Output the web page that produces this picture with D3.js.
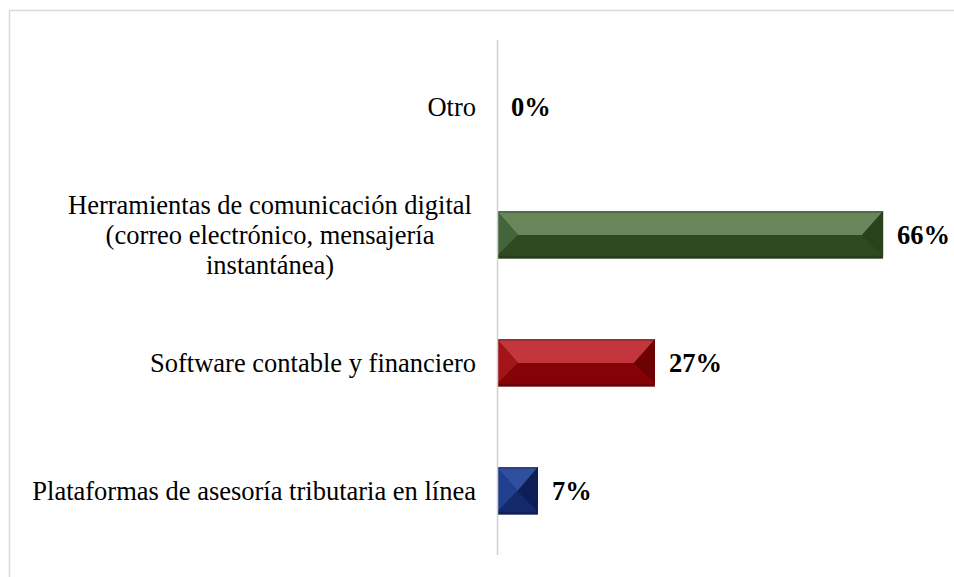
<!DOCTYPE html>
<html>
<head>
<meta charset="utf-8">
<script src="https://cdn.jsdelivr.net/npm/d3@7/dist/d3.min.js"></script>
<style>
  html, body { margin: 0; padding: 0; background: #fff; }
  svg { display: block; }
</style>
</head>
<body>
<svg id="chart" width="954" height="577"></svg>
<script>
// Herramientas tecnológicas utilizadas (porcentaje de respuestas)
const categories = [
  "Otro",
  "Herramientas de comunicación digital (correo electrónico, mensajería instantánea)",
  "Software contable y financiero",
  "Plataformas de asesoría tributaria en línea"
];
const labelLines = [
  ["Otro"],
  ["Herramientas de comunicación digital", "(correo electrónico, mensajería", "instantánea)"],
  ["Software contable y financiero"],
  ["Plataformas de asesoría tributaria en línea"]
];
const values = [0, 0.66, 0.27, 0.07];
const valueLabels = ["0%", "66%", "27%", "7%"];

// Bevel palettes: face, top bevel, left bevel, right bevel, bottom edge
const palettes = [
  null,
  { face: "#2f4a20", top: "#67875a", left: "#44643a", right: "#2a421c", bottom: "#263d19" },
  { face: "#850306", top: "#c3363b", left: "#a3151a", right: "#6c0204", bottom: "#6a0305" },
  { face: "#142a6a", top: "#30509e", left: "#203f8c", right: "#0d1f56", bottom: "#0e2054" }
];

const svg = d3.select("#chart");
const W = 954, H = 577;

// Outer frame
svg.append("rect")
  .attr("x", 9.5).attr("y", 10.5)
  .attr("width", W + 20).attr("height", H + 20)
  .attr("fill", "#fff")
  .attr("stroke", "#d9d9d9").attr("stroke-width", 1.5);

const x0 = 497;
const x = d3.scaleLinear().domain([0, 1]).range([x0, x0 + 585]);
const y = d3.scaleBand().domain(categories).range([43, 555])
  .paddingInner(0.63).paddingOuter(0.315);

const font = "'Liberation Serif', 'Times New Roman', serif";
const labelSize = 26.5;

// Bars with bevel effect
const bars = svg.append("g");
categories.forEach((c, i) => {
  const v = values[i];
  if (v <= 0) return;
  const p = palettes[i];
  const bx = x(0), bw = x(v) - x(0);
  const by = y(c), bh = y.bandwidth();
  const bev = Math.min(21, bw / 2);
  const tipY = by + bh * 0.5;
  const bot = by + bh - 3;
  const g = bars.append("g");
  g.append("rect").attr("x", bx).attr("y", by).attr("width", bw).attr("height", bh).attr("fill", p.bottom);
  // face
  g.append("polygon").attr("fill", p.face)
    .attr("points", [[bx, bot], [bx + bev, tipY], [bx + bw - bev, tipY], [bx + bw, bot]].join(" "));
  // top bevel
  g.append("polygon").attr("fill", p.top)
    .attr("points", [[bx, by], [bx + bw, by], [bx + bw - bev, tipY], [bx + bev, tipY]].join(" "));
  // left bevel
  g.append("polygon").attr("fill", p.left)
    .attr("points", [[bx, by], [bx + bev, tipY], [bx, bot]].join(" "));
  // right bevel
  g.append("polygon").attr("fill", p.right)
    .attr("points", [[bx + bw, by], [bx + bw - bev, tipY], [bx + bw, bot]].join(" "));
  // top edge
  g.append("rect").attr("x", bx).attr("y", by).attr("width", bw).attr("height", 1.5)
    .attr("fill", "#000").attr("opacity", 0.25);
});

// Category axis line
svg.append("line")
  .attr("x1", x0 + 0.5).attr("x2", x0 + 0.5)
  .attr("y1", 40).attr("y2", 555)
  .attr("stroke", "#d0d0d0").attr("stroke-width", 1.5);

// Category labels
const lineH = 30;
categories.forEach((c, i) => {
  const lines = labelLines[i];
  const cy = y(c) + y.bandwidth() / 2;
  const multi = lines.length > 1;
  const t = svg.append("text")
    .attr("text-anchor", multi ? "middle" : "end")
    .attr("font-family", font)
    .attr("font-size", labelSize)
    .attr("fill", "#000");
  lines.forEach((ln, k) => {
    t.append("tspan")
      .attr("x", multi ? 270 : 476)
      .attr("y", cy + (k - (lines.length - 1) / 2) * lineH + 9)
      .text(ln);
  });
});

// Value labels
categories.forEach((c, i) => {
  svg.append("text")
    .attr("x", x(values[i]) + 14)
    .attr("y", y(c) + y.bandwidth() / 2 + 9)
    .attr("font-family", font)
    .attr("font-weight", "bold")
    .attr("font-size", labelSize)
    .attr("fill", "#000")
    .text(valueLabels[i]);
});
</script>
</body>
</html>
